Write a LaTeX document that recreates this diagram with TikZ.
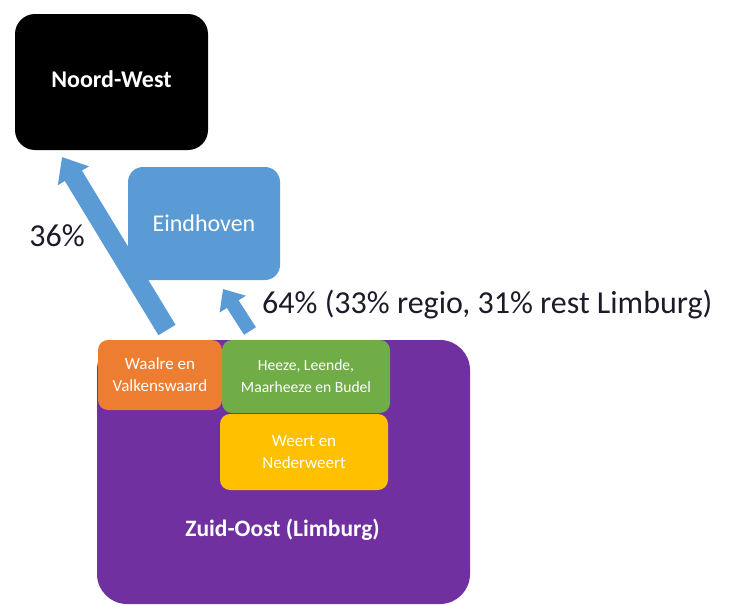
\documentclass[tikz,border=0pt]{standalone}
\usepackage{fontspec}
\setmainfont{Carlito}
\usetikzlibrary{arrows.meta}

\definecolor{ehvblue}{HTML}{5B9BD5}
\definecolor{zopurple}{HTML}{7030A0}
\definecolor{wvorange}{HTML}{ED7D31}
\definecolor{hlgreen}{HTML}{70AD47}
\definecolor{wnyellow}{HTML}{FFC000}
\definecolor{labelink}{HTML}{1B1B2A}

\begin{document}
\begin{tikzpicture}[x=1pt,y=-1pt,
  region/.style={rounded corners=#1,text=white,align=center,inner sep=0pt},
  smalltext/.style={font=\fontsize{#1}{22}\selectfont},
  flow/.style={draw=ehvblue,line width=#1},
  pct/.style={text=labelink,font=\fontsize{32}{34}\selectfont,inner sep=0pt}]
\useasboundingbox (0,0) rectangle (729,605);
% regions
\node[region=20pt,fill=black,minimum width=193pt,minimum height=136pt,text depth=6pt,
      font=\bfseries\fontsize{24}{28}\selectfont] (noordwest) at (111.5,82) {Noord-West};
\node[region=15pt,fill=ehvblue,minimum width=152pt,minimum height=113pt,
      font=\fontsize{24}{28}\selectfont] (eindhoven) at (204,223.5) {Eindhoven};
\node[region=30pt,fill=zopurple,minimum width=373pt,minimum height=264pt] (zuidoost) at (283.5,472) {};
\node[text=white,font=\bfseries\fontsize{23.5}{26}\selectfont] (zolabel) at (282.5,530) {Zuid-Oost (Limburg)};
% sub regions
\node[region=10pt,fill=wvorange,minimum width=124pt,minimum height=70pt,smalltext=17] (waalre) at (160,375) {Waalre en\\Valkenswaard};
\node[region=10pt,fill=hlgreen,minimum width=168pt,minimum height=73pt,smalltext=15.6] (heeze) at (306,376.5) {Heeze, Leende,\\Maarheeze en Budel};
\node[region=10pt,fill=wnyellow,minimum width=168pt,minimum height=76pt,smalltext=17] (weert) at (304,452) {Weert en\\Nederweert};
% flows
\coordinate (nwfrom) at (167,330);
\coordinate (nwto) at (62,157);
\coordinate (ehvfrom) at (250,331);
\coordinate (ehvto) at (223,289);
\draw[flow=20pt,-{Triangle[width=35pt,length=22pt]}] (nwfrom) -- (nwto);
\draw[flow=14pt,-{Triangle[width=30pt,length=18pt]}] (ehvfrom) -- (ehvto);
\node[pct] (nwpct) at (57,236) {36\%};
\node[pct,anchor=west] (ehvpct) at (262,305) {64\% (33\% regio, 31\% rest Limburg)};
\end{tikzpicture}
\end{document}
